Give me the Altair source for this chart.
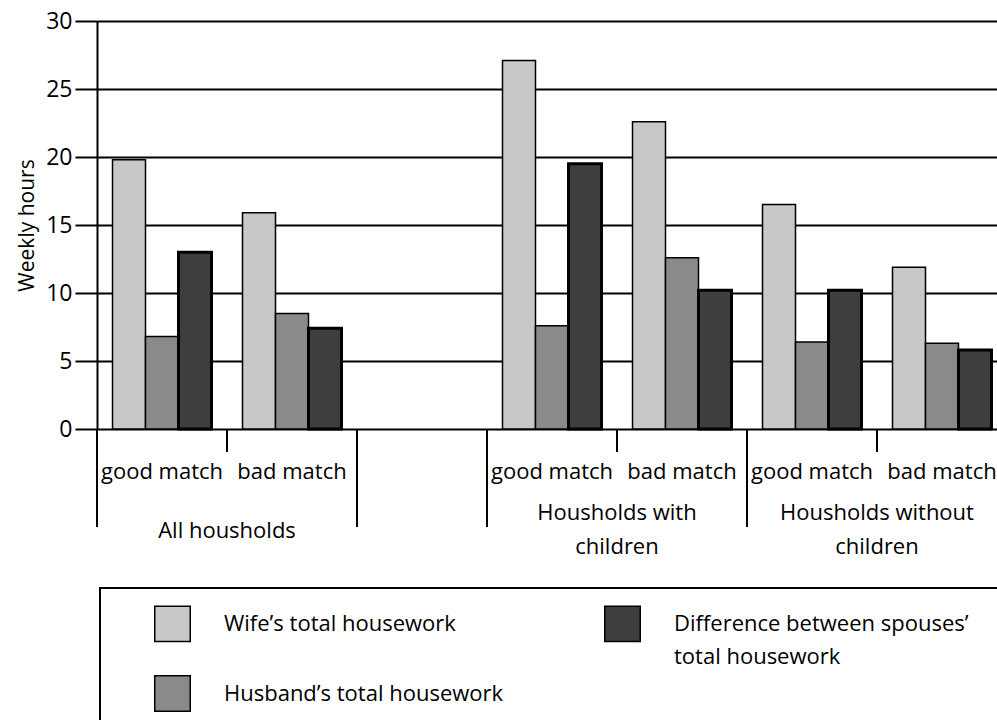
import altair as alt
import pandas as pd

FONT = "Open Sans"

slots = ["All-good", "All-bad", "gap", "Kids-good", "Kids-bad", "NoKids-good", "NoKids-bad"]
slot_labels = ["good match", "bad match", "", "good match", "bad match", "good match", "bad match"]
bar_slots = ["All-good", "All-bad", "Kids-good", "Kids-bad", "NoKids-good", "NoKids-bad"]
series_names = ["Wife’s total housework", "Husband’s total housework",
                "Difference between spouses’ total housework"]
wife = [19.8, 15.9, 27.1, 22.6, 16.5, 11.9]
husband = [6.8, 8.5, 7.6, 12.6, 6.4, 6.3]
difference = [13.0, 7.4, 19.5, 10.2, 10.2, 5.8]
series_colors = ["#c8c8c8", "#8a8a8a", "#3e3e3e"]

sep_kind = ["long", "short", "long", "long", "short", "long", "short"]
group_anchor = ["All-bad", "Kids-bad", "NoKids-bad"]
group_text = ["All housholds", "Housholds with\nchildren", "Housholds without\nchildren"]
legend_wrap = ["total housework"]

rows = []
for name, vals in zip(series_names, [wife, husband, difference]):
    for s, v in zip(bar_slots, vals):
        rows.append({"slot": s, "series": name, "hours": v})
df = pd.DataFrame(rows)
sep_df = pd.DataFrame({"slot": slots, "kind": sep_kind, "label": slot_labels})
grp_df = pd.DataFrame({"slot": group_anchor, "label": group_text})
wrap_df = pd.DataFrame({"label": legend_wrap})

xscale = alt.Scale(domain=slots, range=[0, 910], paddingInner=0, paddingOuter=0)

legend_order = [series_names[0], series_names[2], series_names[1]]
color_map = dict(zip(series_names, series_colors))

legend = alt.Legend(orient="none", legendX=57, legendY=584, columns=2,
                    direction="horizontal", title=None,
                    symbolType="square", symbolSize=1260,
                    symbolStrokeColor="black", symbolStrokeWidth=1.5,
                    symbolOpacity=1, labelFont=FONT, labelFontSize=22,
                    labelColor="black", labelOffset=33, labelLimit=0,
                    columnPadding=97, rowPadding=27,
                    labelExpr="indexof(datum.label,'Difference')==0 ? 'Difference between spouses’' : datum.label")

bars = alt.Chart(df).mark_bar(stroke="black", opacity=1).encode(
    x=alt.X("slot:N", scale=xscale, sort=slots, axis=None),
    xOffset=alt.XOffset("series:N", sort=series_names,
                        scale=alt.Scale(domain=series_names, paddingOuter=0.47, paddingInner=0)),
    y=alt.Y("hours:Q", scale=alt.Scale(domain=[0, 30], nice=False),
            axis=alt.Axis(values=[0, 5, 10, 15, 20, 25, 30], grid=True, gridColor="black",
                          gridWidth=2, gridOpacity=1, tickColor="black", tickSize=22, tickWidth=2,
                          domainColor="black", domainWidth=2, labelFont=FONT, labelFontSize=23,
                          labelColor="black", labelPadding=3, title="Weekly hours",
                          titleFont=FONT, titleFontSize=21, titleFontWeight="normal",
                          titleColor="black", titlePadding=8)),
    color=alt.Color("series:N",
                    scale=alt.Scale(domain=legend_order, range=[color_map[n] for n in legend_order]),
                    legend=legend),
    strokeWidth=alt.condition(alt.datum.series == series_names[2], alt.value(3), alt.value(1.5)),
)

rules_long = alt.Chart(sep_df).transform_filter(alt.datum.kind == "long").mark_rule(
    color="black", strokeWidth=2).encode(
    x=alt.X("slot:N", scale=xscale, sort=slots, bandPosition=0, axis=None),
    y=alt.value(408), y2=alt.value(506))

rules_short = alt.Chart(sep_df).transform_filter(alt.datum.kind == "short").mark_rule(
    color="black", strokeWidth=2).encode(
    x=alt.X("slot:N", scale=xscale, sort=slots, bandPosition=0, axis=None),
    y=alt.value(408), y2=alt.value(431))

slot_text = alt.Chart(sep_df).mark_text(
    font=FONT, fontSize=22, color="black", baseline="middle", align="center").encode(
    x=alt.X("slot:N", scale=xscale, sort=slots, axis=None),
    y=alt.value(451), text="label:N")

grp_one = alt.Chart(grp_df).transform_filter("indexof(datum.label,'\\n') < 0").mark_text(
    font=FONT, fontSize=22, color="black", baseline="middle", align="center").encode(
    x=alt.X("slot:N", scale=xscale, sort=slots, bandPosition=0, axis=None),
    y=alt.value(510), text="label:N")

grp_two = alt.Chart(grp_df).transform_filter("indexof(datum.label,'\\n') >= 0").mark_text(
    font=FONT, fontSize=22, color="black", baseline="middle", align="center",
    lineBreak="\n", lineHeight=34).encode(
    x=alt.X("slot:N", scale=xscale, sort=slots, bandPosition=0, axis=None),
    y=alt.value(492), text="label:N")

wrap_text = alt.Chart(wrap_df).mark_text(
    font=FONT, fontSize=22, color="black", baseline="middle", align="left").encode(
    x=alt.value(577), y=alt.value(636), text="label:N")

frame = alt.Chart(alt.Data(values=[{"f": 1}])).mark_rect(
    fill=None, stroke="black", strokeWidth=2).encode(
    x=alt.value(3), x2=alt.value(1010), y=alt.value(567), y2=alt.value(760))

chart = alt.layer(bars, rules_long, rules_short, slot_text, grp_one, grp_two, wrap_text, frame).properties(
    width=900, height=408,
    padding={"left": 97, "top": 21, "right": 0, "bottom": 291},
    autosize="none",
    background="white",
).configure_view(stroke=None)

chart.save("out.html", embed_options={"renderer": "svg", "actions": False})
